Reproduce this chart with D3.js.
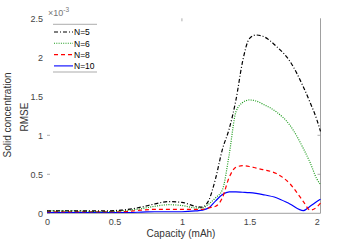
<!DOCTYPE html>
<html>
<head>
<meta charset="utf-8">
<script src="https://cdn.jsdelivr.net/npm/d3@7"></script>
<style>
  body { margin: 0; background: #fff; }
  svg { font-family: "Liberation Sans", Arial, sans-serif; }
</style>
</head>
<body>
<svg id="chart" width="354" height="243"></svg>
<script>
// Values (RMSE in units of 1e-3)
const capacity = [0, 0.2, 0.4, 0.55, 0.7, 0.8, 0.9, 1.0, 1.1, 1.15, 1.2, 1.25, 1.3, 1.35, 1.4, 1.45, 1.5, 1.55, 1.6, 1.7, 1.8, 1.9, 1.95, 2.0, 2.027];
const rmseN5 = [0.03, 0.03, 0.03, 0.04, 0.08, 0.12, 0.15, 0.14, 0.09, 0.08, 0.17, 0.45, 0.82, 1.08, 1.45, 1.95, 2.24, 2.286, 2.27, 2.14, 1.95, 1.62, 1.42, 1.2, 1.05];
const rmseN6 = [0.03, 0.03, 0.02, 0.03, 0.06, 0.09, 0.11, 0.10, 0.07, 0.07, 0.12, 0.2, 0.3, 0.75, 1.3, 1.42, 1.453, 1.44, 1.4, 1.3, 1.13, 0.83, 0.65, 0.44, 0.37];
const rmseN8 = [0.02, 0.02, 0.02, 0.02, 0.04, 0.05, 0.05, 0.05, 0.05, 0.05, 0.07, 0.09, 0.2, 0.46, 0.59, 0.61, 0.6, 0.58, 0.56, 0.51, 0.38, 0.15, 0.04, 0.08, 0.13];
const rmseN10 = [0.01, 0.01, 0.01, 0.01, 0.015, 0.02, 0.02, 0.02, 0.03, 0.04, 0.07, 0.16, 0.24, 0.275, 0.275, 0.27, 0.265, 0.255, 0.24, 0.2, 0.12, 0.035, 0.09, 0.15, 0.18];
const seriesNames = ["N=5", "N=6", "N=8", "N=10"];
const xTicks = [0, 0.5, 1, 1.5, 2];
const yTicks = [0, 0.5, 1, 1.5, 2, 2.5];

const series = [
  { name: seriesNames[0], values: rmseN5, color: "#000", dash: "4,2,1,2" },
  { name: seriesNames[1], values: rmseN6, color: "#1a9a1a", dash: "1,1.3" },
  { name: seriesNames[2], values: rmseN8, color: "#f00", dash: "4,3" },
  { name: seriesNames[3], values: rmseN10, color: "#00f", dash: null }
];

const svg = d3.select("#chart");
const x = d3.scaleLinear().domain([0, 2.027]).range([47, 320.5]);
const y = d3.scaleLinear().domain([0, 2.5]).range([213.3, 18.3]);
const axisColor = "#888";
const textColor = "#444";

// x tick labels
const gx = svg.append("g").attr("transform", "translate(0,213.3)")
  .call(d3.axisBottom(x).tickValues(xTicks).tickSize(0).tickPadding(5).tickFormat(d3.format("")));
gx.select(".domain").remove();
gx.selectAll("text").attr("fill", textColor).attr("font-size", 9).attr("font-family", "Liberation Sans, Arial, sans-serif");

// y tick labels with inward tick marks
const gy = svg.append("g").attr("transform", "translate(47,0)")
  .call(d3.axisLeft(y).tickValues(yTicks).tickSize(0).tickPadding(4).tickFormat(d3.format("")));
gy.select(".domain").remove();
gy.selectAll("text").attr("fill", textColor).attr("font-size", 9).attr("font-family", "Liberation Sans, Arial, sans-serif");
svg.append("g").selectAll("line").data([0, 0.5, 1]).join("line")
  .attr("x1", 47).attr("x2", 50).attr("y1", d => y(d)).attr("y2", d => y(d))
  .attr("stroke", axisColor).attr("stroke-width", 0.7);

// right and bottom axis lines
svg.append("line").attr("x1", x(2.027)).attr("x2", x(2.027)).attr("y1", y(2.5)).attr("y2", y(0))
  .attr("stroke", axisColor).attr("stroke-width", 0.8);
svg.append("line").attr("x1", x(0)).attr("x2", x(2.027)).attr("y1", y(0)).attr("y2", y(0))
  .attr("stroke", axisColor).attr("stroke-width", 0.8);
svg.append("g").selectAll("line").data([0.5, 1]).join("line")
  .attr("x1", x(2.027) - 3).attr("x2", x(2.027)).attr("y1", d => y(d)).attr("y2", d => y(d))
  .attr("stroke", axisColor).attr("stroke-width", 0.7);
svg.append("line").attr("x1", x(1)).attr("x2", x(1)).attr("y1", y(2.5)).attr("y2", y(2.5) + 3)
  .attr("stroke", axisColor).attr("stroke-width", 0.7);

// curves
const line = d3.line()
  .x((d, i) => x(capacity[i]))
  .y(d => y(d))
  .curve(d3.curveMonotoneX);

svg.append("g").selectAll("path").data(series.slice().reverse()).join("path")
  .attr("d", d => line(d.values))
  .attr("fill", "none")
  .attr("stroke", d => d.color)
  .attr("stroke-width", 1.2)
  .attr("stroke-dasharray", d => d.dash);

// exponent
const expo = svg.append("text").attr("x", 48).attr("y", 16).attr("fill", "#777").attr("font-size", 9);
expo.append("tspan").text("\u00d710");
expo.append("tspan").attr("dy", -4).attr("font-size", 6.5).text("-3");

// axis labels
svg.append("text").attr("x", 181).attr("y", 237).attr("text-anchor", "middle")
  .attr("fill", "#333").attr("font-size", 10).text("Capacity (mAh)");
svg.append("text").attr("transform", "translate(11,115) rotate(-90)").attr("text-anchor", "middle")
  .attr("fill", "#333").attr("font-size", 10).text("Solid concentration");
svg.append("text").attr("transform", "translate(28,117) rotate(-90)").attr("text-anchor", "middle")
  .attr("fill", "#333").attr("font-size", 10).text("RMSE");

// legend
const legend = svg.append("g");
legend.append("line").attr("x1", 53).attr("x2", 97).attr("y1", 24.3).attr("y2", 24.3).attr("stroke", axisColor).attr("stroke-width", 0.7);
legend.append("line").attr("x1", 53).attr("x2", 97).attr("y1", 72).attr("y2", 72).attr("stroke", axisColor).attr("stroke-width", 0.7);
const items = legend.selectAll("g.item").data(series).join("g").attr("class", "item")
  .attr("transform", (d, i) => `translate(0,${32 + i * 11.3})`);
items.append("line").attr("x1", 54).attr("x2", 73).attr("y1", 0).attr("y2", 0)
  .attr("stroke", d => d.color).attr("stroke-width", 1.1).attr("stroke-dasharray", d => d.dash);
items.append("text").attr("x", 74).attr("y", 3.2).attr("fill", "#000").attr("font-size", 8.5).text(d => d.name);
</script>
</body>
</html>
